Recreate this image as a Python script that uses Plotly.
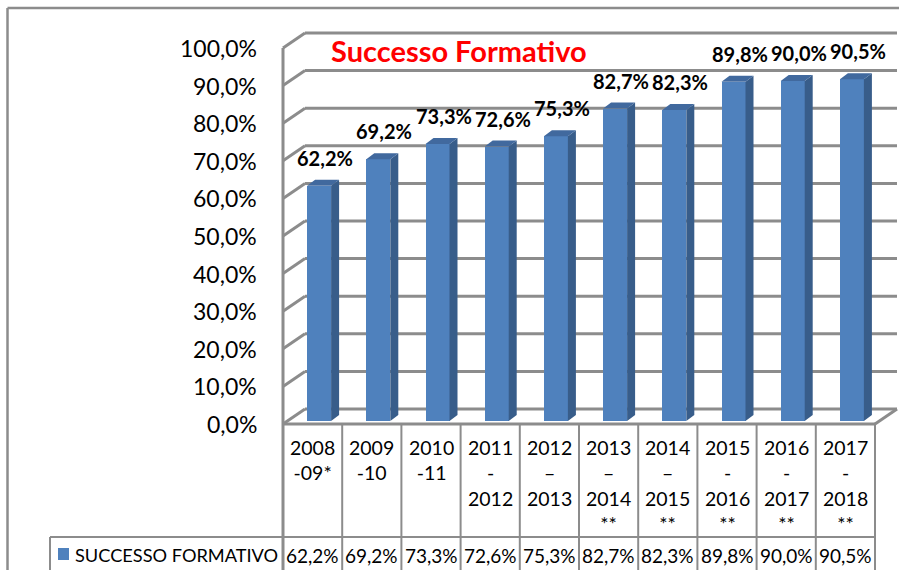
import plotly.graph_objects as go

# ---------------- data ----------------
categories = ["2008<br>-09*", "2009<br>-10", "2010<br>-11", "2011<br>-<br>2012",
              "2012<br>–<br>2013", "2013<br>–<br>2014<br>**", "2014<br>–<br>2015<br>**",
              "2015<br>-<br>2016<br>**", "2016<br>-<br>2017<br>**", "2017<br>-<br>2018<br>**"]
values = [62.2, 69.2, 73.3, 72.6, 75.3, 82.7, 82.3, 89.8, 90.0, 90.5]
series_name = "SUCCESSO FORMATIVO"
title_text = "Successo Formativo"
tick_values = [0, 10, 20, 30, 40, 50, 60, 70, 80, 90, 100]
tick_labels = ["0,0%", "10,0%", "20,0%", "30,0%", "40,0%", "50,0%",
               "60,0%", "70,0%", "80,0%", "90,0%", "100,0%"]

# ---------------- geometry ----------------
W, H = 899, 570
FONT = "Lato"
GRID = "#8c8c8c"
FRONT = "#4F81BD"
SIDE = "#385D8A"
TOP = "#41699E"

XU = 59.2      # px per category
YU = 3.76      # px per percent
X_LEFT_PX = 283
Y0_PX = 424

def px_to_x(px):
    return (px - X_LEFT_PX) / XU - 0.5

def px_to_y(py):
    return (Y0_PX - py) / YU

def px(xp):
    return xp / W

def py(yp):
    return 1 - yp / H

n = len(values)
xL, xR = -0.5, n - 0.5
wall_dx = 22 / XU
wall_dv = 15 / YU
bar_off = 6.5 / XU
bar_hw = 12 / XU
bar_dx = 8 / XU
bar_dv = 6 / YU
bar_base = 3 / YU      # depth shift of the bar base (bars stand mid-floor)
bar_lift = 4.5 / YU    # depth shift of the bar top

shapes = []
line = dict(color=GRID, width=3)
# back-wall gridlines and left-wall diagonals
for v in tick_values:
    shapes.append(dict(type="line", xref="x", yref="y", x0=xL + wall_dx, x1=xR + wall_dx,
                       y0=v + wall_dv, y1=v + wall_dv, line=line, layer="below"))
    shapes.append(dict(type="line", xref="x", yref="y", x0=xL, x1=xL + wall_dx,
                       y0=v, y1=v + wall_dv, line=line, layer="below"))
# floor front edge and right diagonal
shapes.append(dict(type="line", xref="x", yref="y", x0=xL, x1=xR, y0=0, y1=0, line=line, layer="below"))
shapes.append(dict(type="line", xref="x", yref="y", x0=xR, x1=xR + wall_dx, y0=0, y1=wall_dv, line=line, layer="below"))
# left wall front vertical
shapes.append(dict(type="line", xref="x", yref="y", x0=xL, x1=xL, y0=100, y1=px_to_y(H + 5), line=line, layer="below"))

tline = dict(color=GRID, width=2)
# table column separators
for i in range(1, n + 1):
    xb = i - 0.5
    shapes.append(dict(type="line", xref="x", yref="y", x0=xb, x1=xb, y0=0, y1=px_to_y(H + 5), line=tline))
# row separator and legend cell
shapes.append(dict(type="line", xref="paper", yref="paper", x0=px(50), x1=px(876), y0=py(537), y1=py(537), line=tline))
shapes.append(dict(type="line", xref="paper", yref="paper", x0=px(50), x1=px(50), y0=py(537), y1=py(H + 5), line=tline))
# legend key
shapes.append(dict(type="rect", xref="paper", yref="paper", x0=px(58), x1=px(69), y0=py(560), y1=py(548),
                   fillcolor=FRONT, line=dict(width=0)))
# outer border
shapes.append(dict(type="line", xref="paper", yref="paper", x0=px(7.5), x1=px(W + 5), y0=py(8), y1=py(8), line=dict(color=GRID, width=2.5)))
shapes.append(dict(type="line", xref="paper", yref="paper", x0=px(7.5), x1=px(7.5), y0=py(8), y1=py(H + 5), line=dict(color=GRID, width=2.5)))

fig = go.Figure()

centers = [i + bar_off for i in range(n)]
tops = [v + bar_lift for v in values]
# front faces
fig.add_trace(go.Bar(x=centers, y=[t - bar_base for t in tops], base=bar_base, width=2 * bar_hw,
                     marker=dict(color=FRONT, line=dict(width=0)), showlegend=False, hoverinfo="skip"))
# side and top faces
sx, sy = [], []
tx, ty = [], []
for c, t in zip(centers, tops):
    r = c + bar_hw
    l = c - bar_hw
    sx += [r, r + bar_dx, r + bar_dx, r, r, None]
    sy += [bar_base, bar_base + bar_dv, t + bar_dv, t, bar_base, None]
    tx += [l, r, r + bar_dx, l + bar_dx, l, None]
    ty += [t, t, t + bar_dv, t + bar_dv, t, None]
fig.add_trace(go.Scatter(x=sx, y=sy, fill="toself", fillcolor=SIDE, mode="lines",
                         line=dict(width=0, color=SIDE), showlegend=False, hoverinfo="skip"))
fig.add_trace(go.Scatter(x=tx, y=ty, fill="toself", fillcolor=TOP, mode="lines",
                         line=dict(width=0, color=TOP), showlegend=False, hoverinfo="skip"))

ann = []
fmt = lambda v: f"{v:.1f}%".replace(".", ",")
# data labels
for c, t, v in zip(centers, tops, values):
    ann.append(dict(x=c, y=t, xref="x", yref="y", text="<b>" + fmt(v) + "</b>", showarrow=False,
                    xanchor="center", yanchor="middle",
                    xshift=6, yshift=28, font=dict(family=FONT, size=20, color="black")))
# y tick labels
for v, t in zip(tick_values, tick_labels):
    ann.append(dict(x=xL, y=v, xref="x", yref="y", text=t, showarrow=False, xanchor="right",
                    yanchor="middle", xshift=-24, yshift=0, font=dict(family=FONT, size=23, color="black")))
# table header and values row
for i, c in enumerate(categories):
    ann.append(dict(x=i, y=py(434), xref="x", yref="paper", text=c, showarrow=False,
                    xanchor="center", yanchor="top",
                    font=dict(family=FONT, size=19.5, color="black")))
    ann.append(dict(x=i, y=py(555), xref="x", yref="paper", text=fmt(values[i]), showarrow=False,
                    xanchor="center", yanchor="middle",
                    font=dict(family=FONT, size=19, color="black")))
# legend text
ann.append(dict(x=px(73), y=py(555), xref="paper", yref="paper", text=series_name, showarrow=False,
                xanchor="left", yanchor="middle", font=dict(family=FONT, size=18.2, color="black")))
# title
ann.append(dict(x=px(459), y=py(50), xref="paper", yref="paper", text="<b>" + title_text + "</b>",
                showarrow=False, xanchor="center", yanchor="middle",
                font=dict(family=FONT, size=29, color="#FF0000")))

fig.update_layout(
    width=W, height=H, margin=dict(l=0, r=0, t=0, b=0),
    paper_bgcolor="white", plot_bgcolor="white",
    xaxis=dict(range=[px_to_x(0), px_to_x(W)], visible=False, fixedrange=True),
    yaxis=dict(range=[px_to_y(H), px_to_y(0)], visible=False, fixedrange=True),
    shapes=shapes, annotations=ann, bargap=0, showlegend=False,
)
fig.write_html("out.html")
